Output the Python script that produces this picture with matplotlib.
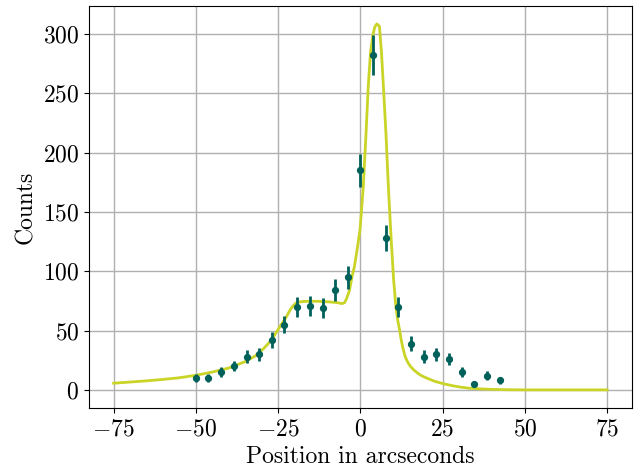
import matplotlib
matplotlib.use("Agg")
import matplotlib.pyplot as plt
import numpy as np

plt.rcParams['font.family'] = 'serif'
plt.rcParams['font.serif'] = ['cmr10']
plt.rcParams['mathtext.fontset'] = 'cm'
plt.rcParams['axes.formatter.use_mathtext'] = True
plt.rcParams['font.size'] = 17

# pozycje i zliczenia
pozycje = [-50.0, -46.2, -42.3, -38.5, -34.6, -30.8, -26.9, -23.1, -19.2, -15.4,
           -11.5, -7.7, -3.8, 0.0, 3.8, 7.7, 11.5, 15.4, 19.2, 23.1,
           26.9, 30.8, 34.6, 38.5, 42.3]
zliczenia = [10, 10, 15, 20, 28, 30, 42, 55, 70, 71,
             69, 84, 95, 185, 282, 128, 70, 39, 28, 30,
             26, 15, 5, 12, 8]
bledy = [3.2, 3.2, 3.9, 4.5, 5.3, 5.5, 6.5, 7.4, 8.4, 8.4,
         8.3, 9.2, 9.7, 13.6, 16.8, 11.3, 8.4, 6.2, 5.3, 5.5,
         5.1, 3.9, 2.2, 3.5, 2.8]

# krzywa modelu
model_x = [-75, -70, -65, -60, -55, -50, -45, -40, -35, -32, -29.5, -27, -24.4,
           -22.5, -21.3, -20.2, -19.3, -17, -14.2, -11.5, -9.1, -7, -5.6, -4.8,
           -4.1, -3.3, -2.5, -1.8, -1.0, -0.1, 0.9, 1.7, 2.4, 3.1, 3.8, 4.4, 5.0,
           5.8, 6.4, 7.0, 7.8, 8.5, 9.3, 10.1, 10.8, 11.4, 11.9, 12.4, 12.9,
           13.6, 14.3, 15.1, 16.2, 17.5, 18.8, 20.2, 22.5, 25.3, 28, 30.4, 33,
           36.5, 40, 44.5, 50, 60, 75]
model_y = [5.6, 6.6, 7.6, 8.8, 10.2, 12.3, 15.0, 18.4, 23.8, 28.5, 34.5, 42.0, 53.5,
           61.5, 67.6, 71.5, 73.8, 74.6, 74.7, 74.5, 74.1, 73.5, 72.7, 73.5,
           77.5, 84.0, 95.8, 104, 118, 135, 172, 215, 256, 285, 299, 306, 308.5,
           306.5, 285, 256, 215, 172, 130, 93, 70, 58, 50.7, 42.5, 35.5,
           28.2, 23.8, 20.2, 16.9, 13.9, 11.6, 9.9, 7.3, 5.1, 3.5, 2.3, 1.4,
           0.8, 0.4, 0.1, 0.0, 0.0, 0.0]

fig = plt.figure(figsize=(6.35, 4.67), dpi=100)
ax = fig.add_subplot(111)
ax.plot(model_x, model_y, color='#c9d427', linewidth=2, zorder=2)
ax.errorbar(pozycje, zliczenia, yerr=bledy, fmt='o', color='#00605a',
            markersize=4.2, elinewidth=2, capsize=0, zorder=3)
ax.grid(True, color='#b0b0b0', linewidth=1)
ax.set_axisbelow(True)
ax.set_xlabel('Position in arcseconds')
ax.set_ylabel('Counts')
ax.set_xticks([-75, -50, -25, 0, 25, 50, 75])
ax.set_yticks([0, 50, 100, 150, 200, 250, 300])
fig.subplots_adjust(left=0.14, right=0.995, bottom=0.126, top=0.988)
fig.savefig('out.png', dpi=100)
